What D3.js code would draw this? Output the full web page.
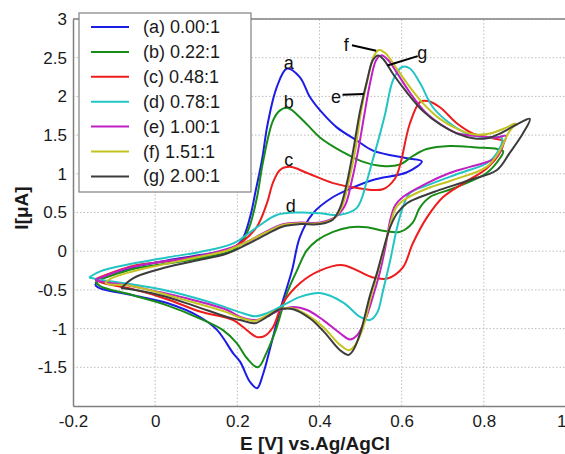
<!DOCTYPE html>
<html>
<head>
<meta charset="utf-8">
<script src="https://cdn.jsdelivr.net/npm/d3@7"></script>
<style>
  html, body { margin: 0; padding: 0; background: #fff; }
  svg { display: block; font-family: "Liberation Sans", Arial, Helvetica, sans-serif; }
</style>
</head>
<body>
<svg id="chart" width="565" height="454"></svg>
<script>
// Cyclic voltammograms, [E (V vs Ag/AgCl), I (µA)] along each scan loop
const loopA = [[-0.146,-0.44],[-0.134,-0.35],[-0.054,-0.21],[0.029,-0.12],[0.109,-0.05],[0.189,0.04],[0.211,0.14],[0.231,0.44],[0.245,0.79],[0.260,1.18],[0.274,1.65],[0.296,2.12],[0.321,2.36],[0.352,2.25],[0.377,1.99],[0.408,1.78],[0.442,1.60],[0.491,1.43],[0.530,1.30],[0.613,1.20],[0.649,1.16],[0.613,1.02],[0.530,0.92],[0.467,0.79],[0.433,0.70],[0.384,0.49],[0.352,0.18],[0.333,-0.25],[0.304,-0.76],[0.282,-1.21],[0.262,-1.60],[0.248,-1.77],[0.231,-1.69],[0.207,-1.43],[0.190,-1.32],[0.151,-1.02],[0.109,-0.85],[0.029,-0.67],[-0.054,-0.57],[-0.134,-0.48],[-0.146,-0.44]];
const loopB = [[-0.146,-0.39],[-0.054,-0.23],[0.029,-0.16],[0.109,-0.09],[0.189,0.01],[0.214,0.14],[0.231,0.34],[0.248,0.70],[0.262,1.14],[0.287,1.69],[0.304,1.82],[0.323,1.85],[0.360,1.69],[0.401,1.47],[0.457,1.28],[0.503,1.16],[0.554,1.10],[0.596,1.12],[0.627,1.23],[0.661,1.32],[0.717,1.36],[0.783,1.34],[0.832,1.32],[0.847,1.29],[0.839,1.20],[0.807,1.01],[0.725,0.81],[0.669,0.70],[0.644,0.56],[0.627,0.37],[0.596,0.25],[0.559,0.26],[0.515,0.31],[0.474,0.31],[0.433,0.25],[0.394,0.14],[0.369,0.01],[0.345,-0.25],[0.321,-0.54],[0.296,-0.98],[0.272,-1.30],[0.250,-1.50],[0.223,-1.38],[0.199,-1.19],[0.165,-1.02],[0.109,-0.87],[0.029,-0.70],[-0.054,-0.57],[-0.134,-0.45],[-0.146,-0.39]];
const loopC = [[-0.146,-0.36],[-0.054,-0.19],[0.029,-0.13],[0.109,-0.06],[0.182,0.03],[0.214,0.13],[0.248,0.32],[0.272,0.62],[0.287,0.89],[0.304,1.05],[0.328,1.09],[0.370,1.01],[0.433,0.88],[0.499,0.81],[0.554,0.80],[0.584,0.94],[0.596,1.11],[0.620,1.65],[0.645,1.93],[0.664,1.94],[0.693,1.86],[0.735,1.65],[0.774,1.52],[0.822,1.46],[0.847,1.42],[0.839,1.27],[0.807,1.07],[0.754,0.89],[0.701,0.70],[0.662,0.44],[0.627,0.10],[0.603,-0.21],[0.567,-0.35],[0.530,-0.34],[0.457,-0.18],[0.401,-0.25],[0.353,-0.41],[0.311,-0.67],[0.287,-0.98],[0.268,-1.09],[0.248,-1.11],[0.214,-0.98],[0.190,-0.89],[0.109,-0.78],[0.029,-0.62],[-0.054,-0.49],[-0.134,-0.40],[-0.146,-0.36]];
const loopD = [[-0.161,-0.34],[-0.134,-0.26],[-0.054,-0.16],[0.029,-0.08],[0.109,-0.01],[0.190,0.10],[0.248,0.31],[0.297,0.47],[0.353,0.50],[0.401,0.49],[0.450,0.47],[0.491,0.56],[0.516,0.92],[0.528,1.15],[0.543,1.43],[0.560,1.78],[0.579,2.21],[0.601,2.38],[0.620,2.36],[0.645,2.17],[0.676,1.86],[0.718,1.65],[0.759,1.52],[0.808,1.47],[0.844,1.46],[0.832,1.27],[0.808,1.14],[0.742,1.01],[0.662,0.85],[0.620,0.75],[0.603,0.57],[0.589,0.31],[0.572,-0.12],[0.555,-0.50],[0.540,-0.80],[0.523,-0.89],[0.499,-0.85],[0.457,-0.66],[0.401,-0.54],[0.353,-0.59],[0.311,-0.70],[0.272,-0.80],[0.243,-0.84],[0.207,-0.79],[0.158,-0.70],[0.109,-0.62],[0.029,-0.51],[-0.054,-0.43],[-0.134,-0.37],[-0.161,-0.34]];
const loopE = [[-0.146,-0.37],[-0.068,-0.22],[0.012,-0.14],[0.092,-0.08],[0.175,0.03],[0.231,0.14],[0.272,0.26],[0.311,0.35],[0.353,0.37],[0.401,0.37],[0.438,0.44],[0.462,0.59],[0.479,0.92],[0.494,1.30],[0.509,1.76],[0.523,2.17],[0.538,2.47],[0.550,2.53],[0.567,2.47],[0.589,2.30],[0.620,2.05],[0.657,1.80],[0.698,1.63],[0.737,1.52],[0.778,1.49],[0.832,1.47],[0.854,1.49],[0.846,1.37],[0.827,1.20],[0.766,1.09],[0.717,1.01],[0.662,0.88],[0.603,0.70],[0.584,0.59],[0.572,0.40],[0.562,0.10],[0.548,-0.25],[0.531,-0.57],[0.511,-0.89],[0.491,-1.09],[0.474,-1.14],[0.450,-1.06],[0.409,-0.89],[0.370,-0.76],[0.336,-0.72],[0.304,-0.76],[0.272,-0.84],[0.243,-0.89],[0.207,-0.85],[0.175,-0.76],[0.092,-0.63],[0.012,-0.53],[-0.068,-0.44],[-0.134,-0.39],[-0.146,-0.37]];
const loopF = [[-0.122,-0.41],[-0.110,-0.36],[-0.068,-0.28],[0.012,-0.18],[0.092,-0.09],[0.175,0.01],[0.231,0.14],[0.272,0.25],[0.311,0.34],[0.353,0.36],[0.401,0.36],[0.436,0.43],[0.455,0.58],[0.472,0.92],[0.487,1.30],[0.501,1.80],[0.518,2.24],[0.533,2.53],[0.545,2.60],[0.560,2.56],[0.584,2.39],[0.613,2.17],[0.652,1.91],[0.693,1.71],[0.735,1.58],[0.774,1.51],[0.815,1.52],[0.856,1.60],[0.876,1.65],[0.859,1.52],[0.839,1.30],[0.807,1.09],[0.725,0.92],[0.662,0.81],[0.608,0.67],[0.586,0.56],[0.572,0.34],[0.557,0.04],[0.542,-0.27],[0.526,-0.57],[0.504,-1.02],[0.487,-1.21],[0.472,-1.28],[0.450,-1.21],[0.409,-0.98],[0.372,-0.83],[0.336,-0.74],[0.304,-0.75],[0.272,-0.83],[0.243,-0.90],[0.207,-0.86],[0.175,-0.79],[0.092,-0.66],[0.012,-0.54],[-0.068,-0.44],[-0.110,-0.43],[-0.122,-0.41]];
const loopG = [[-0.083,-0.48],[-0.054,-0.35],[0.012,-0.23],[0.092,-0.13],[0.175,-0.03],[0.224,0.09],[0.272,0.22],[0.311,0.32],[0.353,0.35],[0.401,0.35],[0.433,0.41],[0.450,0.56],[0.467,0.89],[0.482,1.30],[0.499,1.82],[0.516,2.21],[0.530,2.47],[0.543,2.53],[0.557,2.47],[0.579,2.29],[0.613,2.05],[0.652,1.81],[0.693,1.64],[0.735,1.52],[0.774,1.46],[0.808,1.46],[0.839,1.52],[0.881,1.64],[0.912,1.71],[0.895,1.52],[0.863,1.27],[0.832,1.05],[0.766,0.92],[0.686,0.78],[0.645,0.70],[0.613,0.62],[0.589,0.49],[0.572,0.31],[0.555,0.01],[0.540,-0.28],[0.523,-0.57],[0.499,-1.06],[0.482,-1.28],[0.470,-1.34],[0.450,-1.28],[0.409,-1.03],[0.377,-0.87],[0.336,-0.75],[0.304,-0.75],[0.272,-0.85],[0.243,-0.93],[0.207,-0.89],[0.175,-0.85],[0.092,-0.70],[0.012,-0.57],[-0.078,-0.48],[-0.083,-0.48]];

const seriesLabels = ["(a) 0.00:1", "(b) 0.22:1", "(c) 0.48:1", "(d) 0.78:1", "(e) 1.00:1", "(f) 1.51:1", "(g) 2.00:1"];
const seriesColors = ["#1c1ce6", "#178c17", "#ee1c1c", "#22c4c4", "#c020c4", "#c4c420", "#3c3c3c"];
const loops = [loopA, loopB, loopC, loopD, loopE, loopF, loopG];

const xTicks = [-0.2, 0, 0.2, 0.4, 0.6, 0.8, 1];
const yTicks = [-1.5, -1, -0.5, 0, 0.5, 1, 1.5, 2, 2.5, 3];

// curve letter tags: [letter, E, I] at the text position
const curveTags = [["a", 0.325, 2.43], ["b", 0.325, 1.93], ["c", 0.325, 1.18], ["d", 0.33, 0.59], ["f", 0.465, 2.67], ["g", 0.65, 2.56], ["e", 0.44, 1.99]];
// leader lines: [E1, I1, E2, I2]
const leaders = [[0.479, 2.66, 0.538, 2.59], [0.639, 2.52, 0.565, 2.40], [0.456, 2.02, 0.508, 2.03]];

const svg = d3.select("#chart");
const x = d3.scaleLinear().domain([-0.2, 1]).range([73, 566]);
const y = d3.scaleLinear().domain([-2, 3]).range([406, 19]);

// grid
const grid = svg.append("g");
grid.selectAll("line.gx").data(xTicks.slice(1)).join("line")
  .attr("x1", d => x(d)).attr("x2", d => x(d)).attr("y1", y(-2)).attr("y2", y(3))
  .attr("stroke", "#bdbdbd").attr("stroke-width", 1).attr("stroke-dasharray", "1.5,2");
grid.selectAll("line.gy").data(yTicks).join("line")
  .attr("x1", x(-0.2)).attr("x2", x(1)).attr("y1", d => y(d)).attr("y2", d => y(d))
  .attr("stroke", "#bdbdbd").attr("stroke-width", 1).attr("stroke-dasharray", "1.5,2");

// axes (plain hyphen-minus in the tick labels)
const xAxis = d3.axisBottom(x).tickValues(xTicks).tickFormat(d => String(d)).tickSize(0).tickPadding(9);
const yAxis = d3.axisLeft(y).tickValues(yTicks).tickFormat(d => String(d)).tickSize(0).tickPadding(6);
const gx = svg.append("g").attr("transform", `translate(0,${y(-2)})`).call(xAxis);
const gy = svg.append("g").attr("transform", `translate(${x(-0.2)},0)`).call(yAxis);
[gx, gy].forEach(g => {
  g.select(".domain").attr("stroke", "#808080").attr("stroke-width", 1.5);
  g.selectAll("text").attr("font-size", 17).attr("fill", "#1a1a1a").attr("font-family", "Liberation Sans, Arial, sans-serif");
});
gx.selectAll("text").attr("dy", "0.71em");
// last x label sits at the right edge of the page: keep it inside
gx.selectAll(".tick").filter(d => d === 1).select("text").attr("text-anchor", "end");
// top frame
svg.append("line").attr("x1", x(-0.2)).attr("x2", x(1)).attr("y1", y(3)).attr("y2", y(3))
  .attr("stroke", "#808080").attr("stroke-width", 1.5);

// curves
const line = d3.line().x(d => x(d[0])).y(d => y(d[1])).curve(d3.curveCatmullRom.alpha(0.5));
svg.append("g").selectAll("path").data(loops).join("path")
  .attr("d", line).attr("fill", "none")
  .attr("stroke", (d, i) => seriesColors[i]).attr("stroke-width", 2)
  .attr("stroke-linejoin", "round");

// leaders and tags
svg.append("g").selectAll("line").data(leaders).join("line")
  .attr("x1", d => x(d[0])).attr("y1", d => y(d[1])).attr("x2", d => x(d[2])).attr("y2", d => y(d[3]))
  .attr("stroke", "#000").attr("stroke-width", 2);
svg.append("g").selectAll("text").data(curveTags).join("text")
  .attr("x", d => x(d[1])).attr("y", d => y(d[2]))
  .attr("text-anchor", "middle").attr("dominant-baseline", "central")
  .attr("font-size", 18).attr("fill", "#111").text(d => d[0]);

// legend
const lg = svg.append("g");
lg.append("rect").attr("x", 79).attr("y", 13).attr("width", 172).attr("height", 179)
  .attr("fill", "#fff").attr("stroke", "#808080").attr("stroke-width", 1.2);
const rows = lg.selectAll("g").data(seriesLabels).join("g")
  .attr("transform", (d, i) => `translate(0,${27 + i * 24.9})`);
rows.append("line").attr("x1", 91).attr("x2", 129).attr("y1", 0).attr("y2", 0)
  .attr("stroke", (d, i) => seriesColors[i]).attr("stroke-width", 2);
rows.append("text").attr("x", 143).attr("y", 0).attr("dominant-baseline", "central")
  .attr("font-size", 18).attr("fill", "#1a1a1a").text(d => d);

// axis titles
svg.append("text").attr("x", 315).attr("y", 450).attr("text-anchor", "middle")
  .attr("font-size", 19).attr("font-weight", "bold").attr("fill", "#1a1a1a")
  .text("E [V] vs.Ag/AgCl");
svg.append("text").attr("transform", "translate(28,208) rotate(-90)").attr("text-anchor", "middle")
  .attr("font-size", 19).attr("font-weight", "bold").attr("fill", "#1a1a1a")
  .text("I[μA]");
</script>
</body>
</html>
